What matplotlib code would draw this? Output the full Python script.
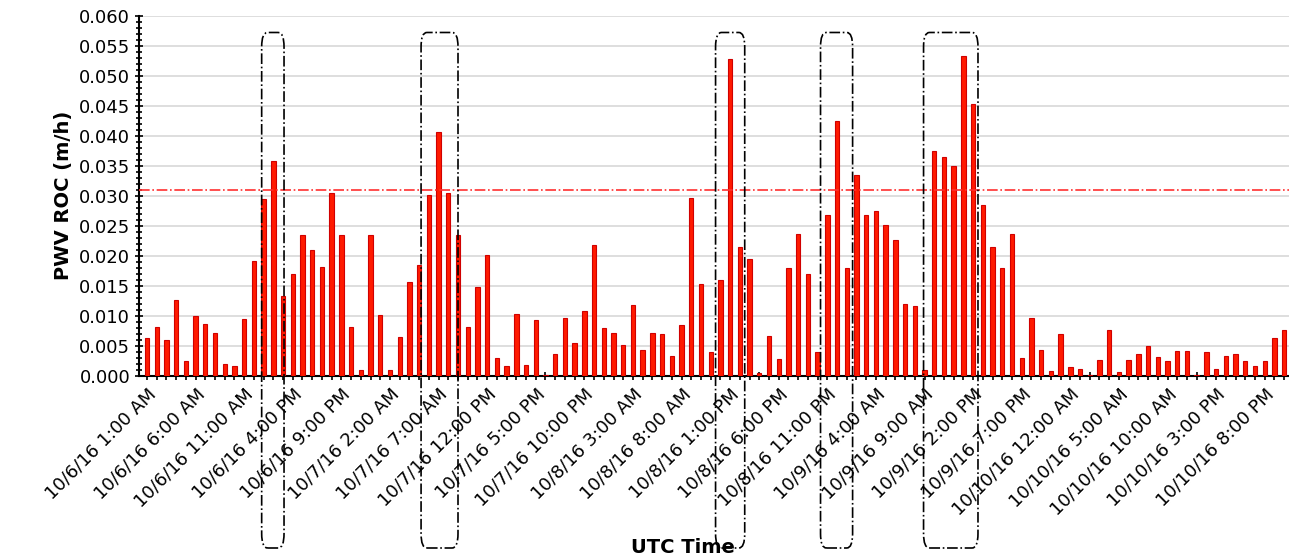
import numpy as np
import pandas as pd
import matplotlib.pyplot as plt
from matplotlib.patches import FancyBboxPatch

# hourly PWV rate of change, starting 10/6/16 1:00 AM
roc = [0.0063, 0.0081, 0.0060, 0.0126, 0.0024, 0.0099, 0.0087, 0.0072, 0.0020, 0.0017,
       0.0095, 0.0192, 0.0294, 0.0358, 0.0133, 0.0170, 0.0235, 0.0209, 0.0182, 0.0304,
       0.0235, 0.0081, 0.0009, 0.0235, 0.0102, 0.0010, 0.0065, 0.0157, 0.0185, 0.0301,
       0.0406, 0.0304, 0.0235, 0.0081, 0.0148, 0.0202, 0.0029, 0.0017, 0.0103, 0.0018,
       0.0093, 0.0002, 0.0037, 0.0097, 0.0055, 0.0108, 0.0218, 0.0080, 0.0072, 0.0052,
       0.0118, 0.0043, 0.0072, 0.0069, 0.0033, 0.0085, 0.0297, 0.0153, 0.0040, 0.0160,
       0.0527, 0.0215, 0.0195, 0.0005, 0.0066, 0.0028, 0.0179, 0.0236, 0.0170, 0.0039,
       0.0268, 0.0425, 0.0179, 0.0335, 0.0268, 0.0274, 0.0252, 0.0227, 0.0120, 0.0117,
       0.0010, 0.0375, 0.0365, 0.0350, 0.0532, 0.0452, 0.0284, 0.0215, 0.0179, 0.0236,
       0.0030, 0.0097, 0.0043, 0.0008, 0.0069, 0.0015, 0.0012, 0.0002, 0.0027, 0.0077,
       0.0006, 0.0027, 0.0036, 0.0050, 0.0032, 0.0024, 0.0042, 0.0042, 0.0002, 0.0039,
       0.0012, 0.0033, 0.0036, 0.0024, 0.0017, 0.0024, 0.0063, 0.0077]
threshold = 0.031
# highlighted windows (bar index ranges)
windows = [(11.8, 14.1), (28.2, 32.0), (58.5, 61.5), (69.3, 72.6), (79.9, 85.5)]

times = pd.date_range('2016-10-06 01:00', periods=len(roc), freq='h')
x = np.arange(len(roc))

def fmt(t):
    return f"{t.month}/{t.day}/{t.strftime('%y')} {t.hour % 12 or 12}:00 {'AM' if t.hour < 12 else 'PM'}"

fig = plt.figure(figsize=(12.89, 5.6), dpi=100)
ax = fig.add_axes([0.108, 0.329, 0.892, 0.643])
ax.bar(x, roc, width=0.45, color='#ff1a00', edgecolor='#d00000', linewidth=0.8, zorder=3)
ax.axhline(threshold, color='#ff3030', linestyle='-.', linewidth=1.2, zorder=4)

for a, b in windows:
    box = FancyBboxPatch((a, -0.0287), b - a, 0.0859, boxstyle='round,pad=0,rounding_size=0.6',
                         mutation_aspect=0.004, fill=False, edgecolor='black',
                         linestyle='-.', linewidth=1.2, clip_on=False, zorder=5)
    ax.add_patch(box)

ax.set_xlim(-0.8, len(roc) - 0.5)
ax.set_ylim(0, 0.06)
ax.set_yticks(np.arange(0, 0.0601, 0.005))
ax.set_yticklabels([f'{v:.3f}' for v in np.arange(0, 0.0601, 0.005)], fontsize=13)
ax.set_yticks(np.arange(0, 0.0601, 0.001), minor=True)
ax.set_xticks(x[::5])
ax.set_xticklabels([fmt(t) for t in times[::5]], rotation=45, ha='right',
                   rotation_mode='anchor', fontsize=13)
ax.set_xticks(x, minor=True)
ax.tick_params(axis='both', which='both', direction='inout', length=6, width=1.2)
ax.tick_params(axis='y', which='minor', length=4)
ax.grid(axis='y', color='#d8d8d8', linewidth=1.2, zorder=0)
for s in ['top', 'right']:
    ax.spines[s].set_visible(False)
for s in ['left', 'bottom']:
    ax.spines[s].set_linewidth(1.5)
ax.set_ylabel('PWV ROC (m/h)', fontsize=14, fontweight='bold')
fig.text(0.53, 0.005, 'UTC Time', fontsize=14, fontweight='bold', ha='center', va='bottom')

plt.savefig('out.png', dpi=100)
